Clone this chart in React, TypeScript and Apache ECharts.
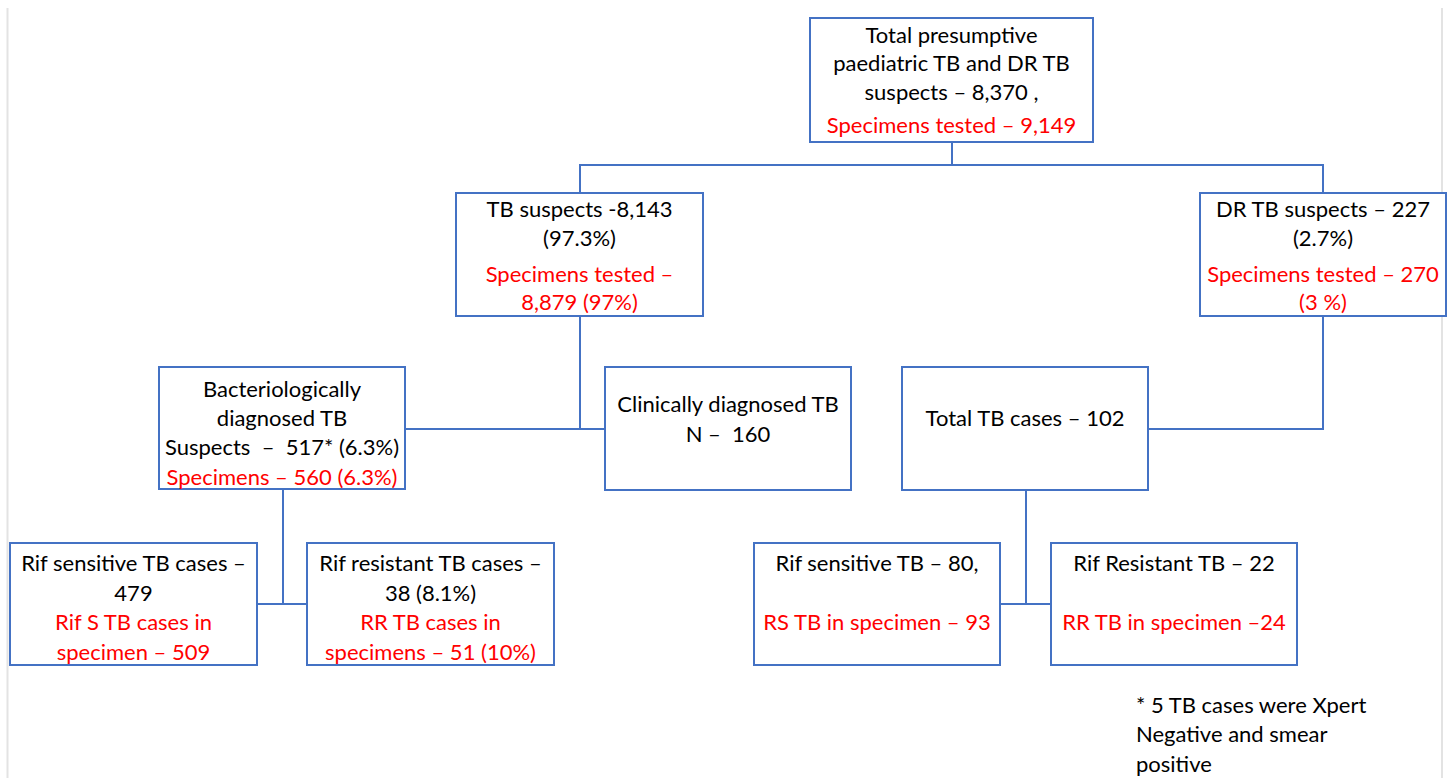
import React, { useEffect, useRef } from "react";
import * as echarts from "echarts";

// ---- Content (texts of each node) ----
const nodeBlackLines: string[][] = [
  ["Total presumptive", "paediatric TB and DR TB", "suspects – 8,370 ,"],
  ["TB suspects -8,143", "(97.3%)"],
  ["DR TB suspects – 227", "(2.7%)"],
  ["Bacteriologically", "diagnosed TB", "Suspects  –  517* (6.3%)"],
  ["Clinically diagnosed TB", "N –  160"],
  ["Total TB cases – 102"],
  ["Rif sensitive TB cases –", "479"],
  ["Rif resistant TB cases –", "38 (8.1%)"],
  ["Rif sensitive TB – 80,"],
  ["Rif Resistant TB – 22"],
];
const nodeRedLines: string[][] = [
  ["Specimens tested – 9,149"],
  ["Specimens tested –", "8,879 (97%)"],
  ["Specimens tested – 270", "(3 %)"],
  ["Specimens – 560 (6.3%)"],
  [],
  [],
  ["Rif S TB cases in", "specimen – 509"],
  ["RR TB cases in", "specimens – 51 (10%)"],
  ["RS TB in specimen – 93"],
  ["RR TB in specimen –24"],
];
const footnoteLines: string[] = [
  "* 5 TB cases were Xpert",
  "Negative and smear",
  "positive",
];

// ---- Layout (positions and sizes) ----
const boxRects: number[][] = [
  [810, 18, 283, 124],
  [456, 193, 247, 123],
  [1200, 193, 246, 123],
  [159, 367, 246, 122],
  [605, 367, 246, 123],
  [902, 367, 246, 123],
  [10, 543, 247, 122],
  [307, 543, 247, 122],
  [754, 543, 246, 122],
  [1051, 543, 246, 122],
];
const lineYs: number[][] = [
  [34, 62, 91, 124],
  [208, 237, 273, 301],
  [208, 237, 273, 301],
  [388, 417, 446, 476],
  [403, 433],
  [417],
  [562, 592, 621, 651],
  [562, 592, 621, 651],
  [562, 621],
  [562, 621],
];
const connectors: number[][][] = [
  [[952, 142], [952, 165]],
  [[580, 193], [580, 165], [1323, 165], [1323, 193]],
  [[580, 316], [580, 429]],
  [[405, 429], [605, 429]],
  [[1323, 316], [1323, 429], [1148, 429]],
  [[283, 489], [283, 604]],
  [[257, 604], [307, 604]],
  [[1026, 490], [1026, 604]],
  [[1000, 604], [1051, 604]],
];
const footnoteX = 1136;
const footnoteYs = [704, 733, 763];

const BLUE = "#4472C4";
const RED = "#FF0000";
const FONT = "22px Lato, 'Open Sans', sans-serif";

export default function App() {
  const ref = useRef<HTMLDivElement>(null);
  useEffect(() => {
    if (!ref.current) return;
    const chart = echarts.init(ref.current, undefined, { renderer: "svg" });
    const elements: any[] = [];
    // frame lines
    elements.push({
      type: "line",
      shape: { x1: 7.5, y1: 8, x2: 7.5, y2: 778 },
      style: { stroke: "#e3e3e3", lineWidth: 2 },
    });
    elements.push({
      type: "line",
      shape: { x1: 1442, y1: 8, x2: 1442, y2: 778 },
      style: { stroke: "#e3e3e3", lineWidth: 2 },
    });
    connectors.forEach((pts) => {
      elements.push({
        type: "polyline",
        shape: { points: pts },
        style: { stroke: BLUE, lineWidth: 2, fill: null },
      });
    });
    boxRects.forEach((r, i) => {
      elements.push({
        type: "rect",
        shape: { x: r[0], y: r[1], width: r[2], height: r[3] },
        style: { fill: "#fff", stroke: BLUE, lineWidth: 2 },
      });
      const cx = r[0] + r[2] / 2;
      const lines = [
        ...nodeBlackLines[i].map((t) => ({ t, c: "#000" })),
        ...nodeRedLines[i].map((t) => ({ t, c: RED })),
      ];
      lines.forEach((ln, j) => {
        elements.push({
          type: "text",
          x: cx,
          y: lineYs[i][j],
          style: {
            text: ln.t,
            fill: ln.c,
            font: FONT,
            align: "center",
            verticalAlign: "middle",
            textAlign: "center",
            textVerticalAlign: "middle",
          },
        });
      });
    });
    footnoteLines.forEach((t, j) => {
      elements.push({
        type: "text",
        x: footnoteX,
        y: footnoteYs[j],
        style: {
          text: t,
          fill: "#000",
          font: FONT,
          align: "left",
          verticalAlign: "middle",
          textAlign: "left",
          textVerticalAlign: "middle",
        },
      });
    });
    chart.setOption({
      animation: false,
      backgroundColor: "#fff",
      graphic: { elements },
    });
    return () => chart.dispose();
  }, []);
  return (
    <div
      ref={ref}
      style={{ position: "fixed", left: 0, top: 0, width: 1448, height: 778 }}
    />
  );
}
